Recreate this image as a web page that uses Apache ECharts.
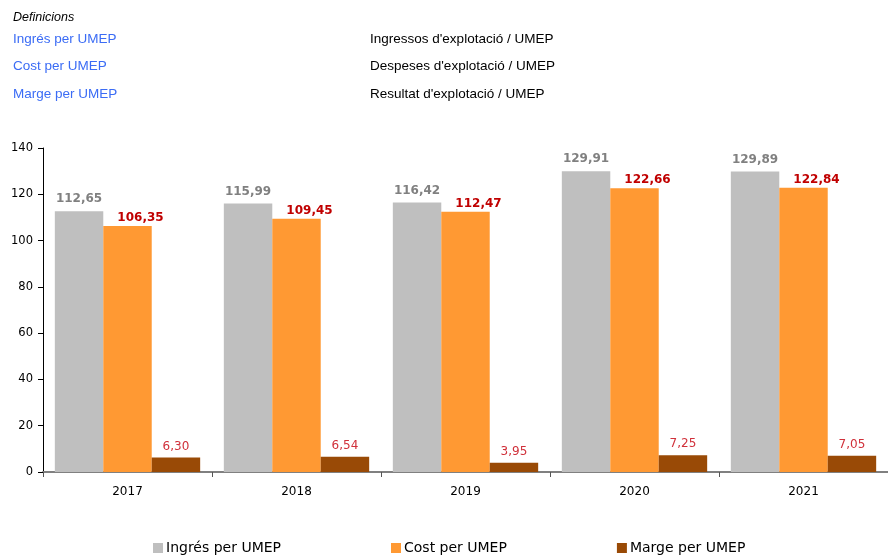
<!DOCTYPE html>
<html><head><meta charset="utf-8">
<script src="https://cdn.jsdelivr.net/npm/echarts@6/dist/echarts.min.js"></script>
<style>html,body{margin:0;padding:0;background:#fff}#c{width:888px;height:555px}</style>
</head><body><div id="c"></div>
<script>
var categories = ['2017','2018','2019','2020','2021'];
var ingres = [112.65, 115.99, 116.42, 129.91, 129.89];
var cost = [106.35, 109.45, 112.47, 122.66, 122.84];
var marge = [6.30, 6.54, 3.95, 7.25, 7.05];
var seriesNames = ['Ingrés per UMEP', 'Cost per UMEP', 'Marge per UMEP'];
var definitions = ["Ingressos d'explotació / UMEP", "Despeses d'explotació / UMEP", "Resultat d'explotació / UMEP"];
var yTicks = {min: 0, max: 140, interval: 20};

function fmt(v){ return v.toFixed(2).replace('.', ','); }
var font = '"DejaVu Sans", Verdana, sans-serif';

var graphics = [{type:'text', left:13, top:11, style:{text:'Definicions', font:'italic 12.5px "Liberation Sans", Arial, sans-serif', fill:'#000'}}];
var rowsY = [32, 59, 87];
for (var i=0;i<3;i++){
  graphics.push({type:'text', left:13, top:rowsY[i], style:{text:seriesNames[i], font:'13.5px "Liberation Sans", Arial, sans-serif', fill:'#3b6cf5'}});
  graphics.push({type:'text', left:370, top:rowsY[i], style:{text:definitions[i], font:'13.5px "Liberation Sans", Arial, sans-serif', fill:'#000'}});
}

var chart = echarts.init(document.getElementById('c'));
chart.setOption({
  animation:false,
  textStyle:{fontFamily:font},
  graphic: graphics,
  grid:{left:43, top:148, width:849, height:324, containLabel:false},
  legend:{top:536, left:148, itemWidth:10, itemHeight:10, itemGap:110, icon:'rect',
    textStyle:{fontFamily:font, fontSize:14, color:'#000', padding:[0,0,0,-2]}, data:seriesNames},
  xAxis:{type:'category', data:categories,
    axisLine:{lineStyle:{color:'#808080', width:2}},
    axisTick:{show:true, alignWithLabel:false, length:5, lineStyle:{color:'#555'}},
    axisLabel:{fontSize:12, color:'#000', margin:14, fontFamily:font}},
  yAxis:{type:'value', min:yTicks.min, max:yTicks.max, interval:yTicks.interval,
    splitLine:{show:false},
    axisLine:{show:true, lineStyle:{color:'#000'}},
    axisTick:{show:true, length:5, lineStyle:{color:'#000'}},
    axisLabel:{fontSize:11.5, color:'#000', margin:10, fontFamily:font}},
  series:[
    {name:seriesNames[0], type:'bar', data:ingres, barGap:'0%', barCategoryGap:'14%',
     itemStyle:{color:'#bfbfbf'},
     label:{show:true, position:'top', distance:6, formatter:function(p){return fmt(p.value);}, color:'#808080', fontWeight:'bold', fontSize:12, fontFamily:font}},
    {name:seriesNames[1], type:'bar', data:cost, barGap:'0%', barCategoryGap:'14%',
     itemStyle:{color:'#ff9933'},
     label:{show:true, position:'top', distance:2, offset:[13,0], formatter:function(p){return fmt(p.value);}, color:'#c00000', fontWeight:'bold', fontSize:12, fontFamily:font}},
    {name:seriesNames[2], type:'bar', data:marge, barGap:'0%', barCategoryGap:'14%',
     itemStyle:{color:'#994a06'},
     label:{show:true, position:'top', distance:5, formatter:function(p){return fmt(p.value);}, color:'#d0303a', fontSize:12, fontFamily:font}}
  ]
});
</script></body></html>
